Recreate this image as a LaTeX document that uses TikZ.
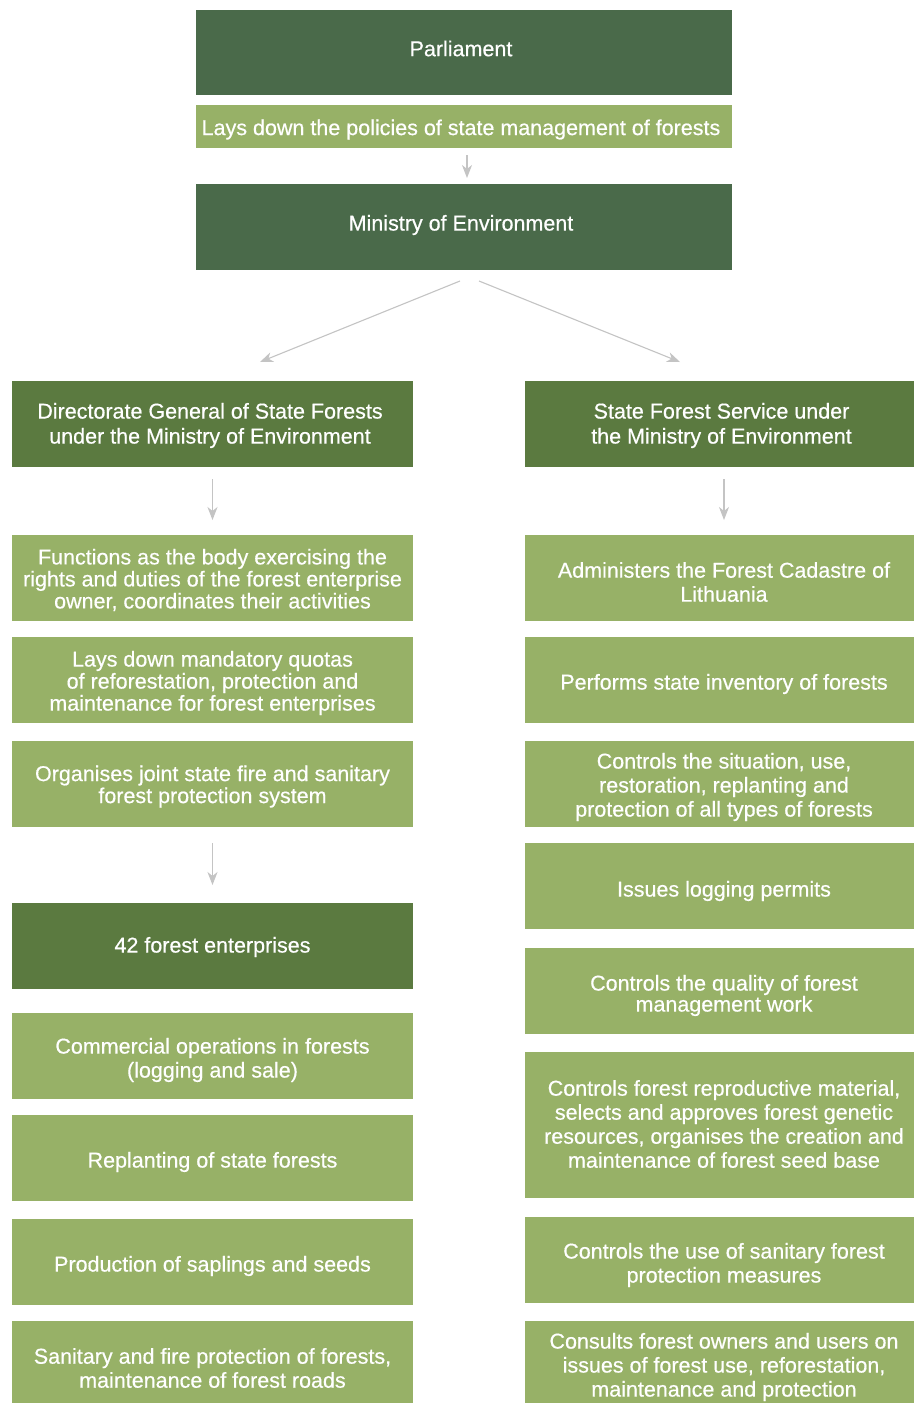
\documentclass[tikz,border=0pt]{standalone}
\usepackage{fontspec}
\setmainfont{Liberation Sans}[FakeBold=0.5]
\usetikzlibrary{arrows.meta}
\definecolor{topgreen}{HTML}{4A6A4A}
\definecolor{midgreen}{HTML}{5B7A40}
\definecolor{lightgreen}{HTML}{97B167}
\definecolor{arrowgray}{HTML}{C4C4C4}
\tikzset{
  % node sits on its text; the coloured panel is drawn offset by (#2,#3) from it
  panel/.style n args={3}{preaction={fill=#1,
      transform canvas={xshift={-1pt*(#2)}, yshift={1pt*(#3)}}}},
  box/.style={inner sep=0pt, outer sep=0pt, text=white, align=center,
    font=\fontsize{21.5}{22}\selectfont},
  topbox/.style 2 args={box, panel={topgreen}{#1}{#2}},
  headbox/.style 2 args={box, panel={midgreen}{#1}{#2}, font=\fontsize{21.5}{25}\selectfont},
  taskbox/.style 2 args={box, panel={lightgreen}{#1}{#2}},
  sp/.style={font=\fontsize{21.5}{#1}\selectfont},
  wide/.style={minimum width=536pt},
  lcol/.style={minimum width=401pt},
  rcol/.style={minimum width=389pt},
  arr/.style={draw=arrowgray, line width=1.1pt,
    -{Stealth[length=13pt,width=10pt,inset=4pt]}}
}
\begin{document}
\begin{tikzpicture}[x=1pt,y=-1pt]
\useasboundingbox (0,0) rectangle (914,1403);
\fill[white] (0,0) rectangle (914,1403);

% top of the hierarchy
\node[topbox={-3}{-4}, wide, minimum height=85pt] (parl) at (461,48.5) {Parliament};
\node[taskbox={-3}{3}, wide, minimum height=43pt] (parltask) at (461,129.5)
  {Lays down the policies of state management of forests};
\node[topbox={-3}{-2}, wide, minimum height=86pt] (min) at (461,225) {Ministry of Environment};

% two agencies
\node[headbox={-2.5}{1.5}, lcol, minimum height=86pt] (dir) at (210,425.5)
  {Directorate General of State Forests\\under the Ministry of Environment};
\node[headbox={2}{1.5}, rcol, minimum height=86pt] (sfs) at (721.5,425.5)
  {State Forest Service under\\the Ministry of Environment};

% directorate tasks
\node[taskbox={0}{2}, lcol, minimum height=86pt] (l1) at (212.5,580)
  {Functions as the body exercising the\\rights and duties of the forest enterprise\\owner, coordinates their activities};
\node[taskbox={0}{3}, lcol, minimum height=86pt] (l2) at (212.5,683)
  {Lays down mandatory quotas\\of reforestation, protection and\\maintenance for forest enterprises};
\node[taskbox={0}{2.5}, lcol, minimum height=86pt] (l3) at (212.5,786.5)
  {Organises joint state fire and sanitary\\forest protection system};

% forest enterprises
\node[headbox={0}{1}, lcol, minimum height=86pt] (ent) at (212.5,947) {42 forest enterprises};
\node[taskbox={0}{4}, sp=24, lcol, minimum height=86pt] (e1) at (212.5,1060)
  {Commercial operations in forests\\(logging and sale)};
\node[taskbox={0}{4}, lcol, minimum height=86pt] (e2) at (212.5,1162) {Replanting of state forests};
\node[taskbox={0}{4}, lcol, minimum height=86pt] (e3) at (212.5,1266) {Production of saplings and seeds};
\node[taskbox={0}{6}, sp=24, lcol, minimum height=82pt] (e4) at (212.5,1368)
  {Sanitary and fire protection of forests,\\maintenance of forest roads};

% state forest service tasks
\node[taskbox={4.5}{4}, sp=24, rcol, minimum height=86pt] (r1) at (724,582)
  {Administers the Forest Cadastre of\\Lithuania};
\node[taskbox={4.5}{4}, rcol, minimum height=86pt] (r2) at (724,684)
  {Performs state inventory of forests};
\node[taskbox={4.5}{3}, sp=24, rcol, minimum height=86pt] (r3) at (724,787)
  {Controls the situation, use,\\restoration, replanting  and\\protection of all types of forests};
\node[taskbox={4.5}{5}, rcol, minimum height=86pt] (r4) at (724,891) {Issues logging permits};
\node[taskbox={4.5}{4.5}, sp=21, rcol, minimum height=86pt] (r5) at (724,995.5)
  {Controls the quality of forest\\management work};
\node[taskbox={4.5}{-1}, sp=24, rcol, minimum height=146pt] (r6) at (724,1124)
  {Controls forest reproductive material,\\selects and approves forest genetic\\resources, organises the creation and\\maintenance of forest seed base};
\node[taskbox={4.5}{5}, sp=24, rcol, minimum height=86pt] (r7) at (724,1265)
  {Controls the use of sanitary forest\\protection measures};
\node[taskbox={4.5}{5}, sp=24, rcol, minimum height=82pt] (r8) at (724,1367)
  {Consults forest owners and users on\\issues of forest use, reforestation,\\maintenance and protection};

% connectors
\coordinate (minL) at (460,281);
\coordinate (minR) at (479,281);
\coordinate (dirIn) at (260,362);
\coordinate (sfsIn) at (680,362);
\draw[arr, shorten <=4pt, shorten >=4pt] (parltask.south -| 467,0) -- (min.north -| 467,0);
\draw[arr] (minL) -- (dirIn);
\draw[arr] (minR) -- (sfsIn);
\draw[arr, shorten <=10.5pt, shorten >=17pt] (dir.south -| l1.north) -- (l1.north);
\draw[arr, shorten <=10.5pt, shorten >=19pt] (sfs.south -| r1.north) -- (r1.north);
\draw[arr, shorten <=13.5pt, shorten >=19pt] (l3.south) -- (ent.north);
\end{tikzpicture}
\end{document}
